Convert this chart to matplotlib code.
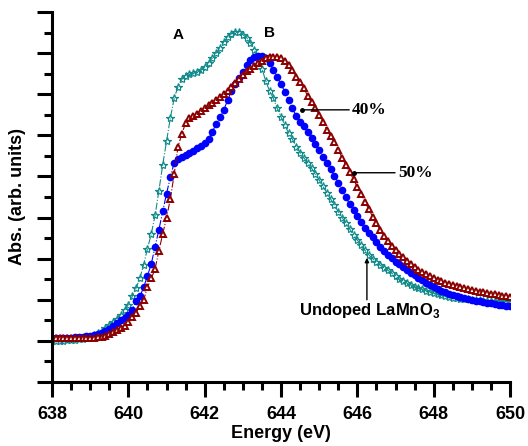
import matplotlib

matplotlib.use("Agg")
import matplotlib.pyplot as plt
import numpy as np
from matplotlib.ticker import MultipleLocator

plt.rcParams["font.family"] = ["Liberation Sans", "DejaVu Sans"]
plt.rcParams["mathtext.fontset"] = "custom"
plt.rcParams["mathtext.bf"] = "Liberation Sans:bold"
plt.rcParams["mathtext.rm"] = "Liberation Sans:bold"

# energy grid, 0.1 eV steps
energy = np.round(np.arange(638.0, 650.05, 0.1), 1)

# undoped LaMnO3 (teal stars)
undoped = [
    0.00, 0.00, 0.00, 0.00, 0.01, 0.02, 0.03, 0.04, 0.05, 0.07,
    0.10, 0.14, 0.19, 0.25, 0.31, 0.38, 0.46, 0.54, 0.64, 0.75,
    0.88, 1.08, 1.28, 1.52, 1.85, 2.24, 2.60, 3.05, 3.65, 4.28,
    4.85, 5.42, 5.90, 6.18, 6.36, 6.45, 6.48, 6.51, 6.54, 6.58,
    6.66, 6.77, 6.88, 7.00, 7.13, 7.27, 7.39, 7.47, 7.52, 7.51,
    7.45, 7.37, 7.25, 7.08, 6.88, 6.62, 6.32, 6.08, 5.90, 5.66,
    5.45, 5.25, 5.05, 4.90, 4.72, 4.58, 4.45, 4.33, 4.20, 4.06,
    3.91, 3.76, 3.60, 3.45, 3.30, 3.14, 3.00, 2.86, 2.72, 2.58,
    2.45, 2.33, 2.20, 2.09, 2.00, 1.92, 1.84, 1.78, 1.72, 1.65,
    1.58, 1.50, 1.45, 1.40, 1.36, 1.32, 1.28, 1.25, 1.22, 1.19,
    1.16, 1.13, 1.11, 1.09, 1.07, 1.05, 1.04, 1.03, 1.02, 1.01,
    1.00, 0.99, 0.99, 0.98, 0.98, 0.97, 0.97, 0.96, 0.96, 0.95,
    0.95,
]

# 40% doped (blue circles)
doped_40 = [
    0.07, 0.07, 0.07, 0.07, 0.08, 0.08, 0.09, 0.09, 0.10, 0.11,
    0.12, 0.14, 0.17, 0.20, 0.25, 0.30, 0.37, 0.44, 0.50, 0.55,
    0.62, 0.76, 0.97, 1.08, 1.30, 1.58, 1.87, 2.29, 2.70, 3.15,
    3.58, 3.98, 4.33, 4.42, 4.48, 4.53, 4.57, 4.61, 4.68, 4.75,
    4.82, 4.92, 5.08, 5.28, 5.44, 5.62, 5.85, 6.08, 6.25, 6.40,
    6.55, 6.72, 6.84, 6.91, 6.93, 6.92, 6.87, 6.75, 6.60, 6.42,
    6.24, 6.06, 5.85, 5.66, 5.46, 5.33, 5.22, 5.07, 4.93, 4.80,
    4.64, 4.48, 4.33, 4.18, 4.02, 3.85, 3.67, 3.49, 3.33, 3.18,
    3.03, 2.88, 2.75, 2.63, 2.52, 2.40, 2.29, 2.19, 2.09, 2.01,
    1.93, 1.86, 1.79, 1.73, 1.66, 1.60, 1.54, 1.48, 1.42, 1.37,
    1.32, 1.27, 1.22, 1.18, 1.15, 1.12, 1.09, 1.07, 1.04, 1.02,
    1.00, 0.98, 0.96, 0.94, 0.92, 0.91, 0.90, 0.88, 0.87, 0.86,
    0.85,
]

# 50% doped (dark red triangles)
doped_50 = [
    0.08, 0.08, 0.08, 0.08, 0.08, 0.08, 0.08, 0.08, 0.08, 0.08,
    0.08, 0.08, 0.09, 0.10, 0.13, 0.17, 0.22, 0.27, 0.31, 0.37,
    0.47, 0.57, 0.67, 0.86, 1.00, 1.30, 1.52, 1.75, 2.19, 2.60,
    3.00, 3.45, 4.05, 4.72, 5.03, 5.30, 5.42, 5.46, 5.53, 5.60,
    5.67, 5.73, 5.79, 5.87, 5.94, 6.01, 6.09, 6.17, 6.27, 6.37,
    6.47, 6.56, 6.62, 6.69, 6.76, 6.82, 6.87, 6.90, 6.91, 6.91,
    6.87, 6.80, 6.70, 6.58, 6.43, 6.29, 6.15, 5.95, 5.80, 5.67,
    5.50, 5.32, 5.13, 4.98, 4.83, 4.65, 4.46, 4.28, 4.10, 3.93,
    3.74, 3.57, 3.38, 3.20, 3.02, 2.86, 2.70, 2.56, 2.43, 2.32,
    2.21, 2.12, 2.03, 1.94, 1.86, 1.79, 1.73, 1.67, 1.62, 1.57,
    1.52, 1.49, 1.46, 1.42, 1.39, 1.36, 1.33, 1.30, 1.28, 1.26,
    1.24, 1.22, 1.20, 1.19, 1.17, 1.15, 1.13, 1.11, 1.10, 1.08,
    1.07,
]

TEAL = "#138a8a"
BLUE = "#0000ff"
RED = "#8b0000"

fig = plt.figure(figsize=(5.28, 4.46), dpi=100)
ax = fig.add_axes([0.0985, 0.1435, 0.8675, 0.8296])

ax.plot(energy, undoped, color=TEAL, ls="-.", lw=0.8, marker="*", ms=6,
        mfc="none", mec=TEAL, mew=0.9)
ax.plot(energy, doped_40, color=BLUE, ls="-.", lw=0.8, marker="o", ms=4.5,
        mfc=BLUE, mec=BLUE, mew=1.0)
ax.plot(energy, doped_50, color=RED, ls="-.", lw=0.8, marker="^", ms=5,
        mfc="white", mec=RED, mew=1.4)

ax.set_xlim(638, 650)
ax.set_ylim(-1, 8)
ax.xaxis.set_major_locator(MultipleLocator(2))
ax.xaxis.set_minor_locator(MultipleLocator(0.5))
ax.yaxis.set_major_locator(MultipleLocator(1))
ax.yaxis.set_minor_locator(MultipleLocator(0.5))
ax.tick_params(which="major", length=11, width=2.2, direction="out")
ax.tick_params(which="minor", length=6, width=2.2, direction="out")
ax.tick_params(axis="x", labelsize=13, pad=6)
ax.set_yticklabels([])
for lab in ax.get_xticklabels():
    lab.set_fontweight("bold")
for side in ("top", "right"):
    ax.spines[side].set_visible(False)
for side in ("left", "bottom"):
    ax.spines[side].set_linewidth(2.2)

ax.set_xlabel("Energy (eV)", fontsize=13, fontweight="bold", labelpad=2)
ax.set_ylabel("Abs. (arb. units)", fontsize=13, fontweight="bold", labelpad=4)

ax.text(641.3, 7.45, "A", fontsize=11, fontweight="bold", ha="center", va="center")
ax.text(643.7, 7.5, "B", fontsize=11, fontweight="bold", ha="center", va="center")

serif = ["Liberation Serif", "DejaVu Serif"]
ax.annotate("40%", xy=(644.55, 5.62), xytext=(645.86, 5.62), va="center", ha="left",
            fontsize=12.5, fontweight="bold", family=serif,
            arrowprops=dict(arrowstyle="-", color="black", lw=1.0, shrinkA=0, shrinkB=0))
ax.plot([644.55], [5.62], "o", color="black", ms=2.5)
ax.annotate("50%", xy=(645.91, 4.09), xytext=(647.06, 4.09), va="center", ha="left",
            fontsize=12.5, fontweight="bold", family=serif,
            arrowprops=dict(arrowstyle="-", color="black", lw=1.0, shrinkA=0, shrinkB=0))
ax.plot([645.91], [4.09], "o", color="black", ms=2.5)

ax.annotate("", xy=(646.25, 2.02), xytext=(646.25, 1.0),
            arrowprops=dict(arrowstyle="-|>", color="black", lw=1.0,
                            mutation_scale=6, shrinkA=0, shrinkB=0))
ax.text(646.33, 0.74, r"Undoped LaMnO$_\mathbf{3}$", fontsize=12, fontweight="bold",
        ha="center", va="center")

fig.savefig("out.png", dpi=100)
